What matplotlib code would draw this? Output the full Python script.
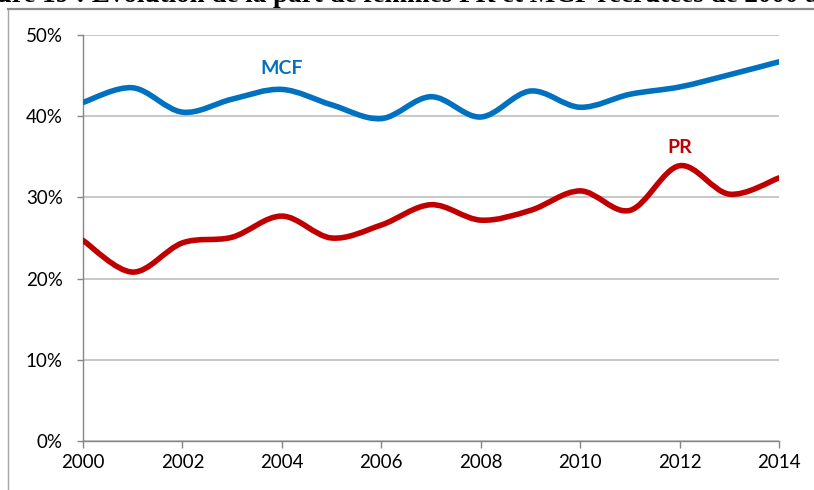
import numpy as np
import matplotlib.pyplot as plt
from matplotlib.path import Path
from matplotlib.patches import PathPatch
from matplotlib.lines import Line2D

# données (% de femmes recrutées)
years = list(range(2000, 2015))
mcf = [41.7, 43.5, 40.5, 42.1, 43.3, 41.4, 39.7, 42.4, 39.9, 43.1, 41.1, 42.7, 43.6, 45.1, 46.7]
pr = [24.7, 20.8, 24.4, 25.1, 27.7, 25.0, 26.6, 29.1, 27.2, 28.4, 30.8, 28.4, 33.9, 30.4, 32.4]

y_ticks = [0, 10, 20, 30, 40, 50]
x_ticks = list(range(2000, 2015, 2))

title = "Figure 19 : Évolution de la part de femmes PR et MCF recrutées de 2000 à 2014"

# couleurs
bleu = '#0070C0'
rouge = '#C00000'
grille = '#BFBFBF'
axe = '#868686'

plt.rcParams['font.family'] = ['Lato', 'DejaVu Sans']


def smooth_path(x, y):
    # courbe lissée façon Excel (bezier cubiques)
    x = np.asarray(x, float)
    y = np.asarray(y, float)
    n = len(x)
    verts = [(x[0], y[0])]
    codes = [Path.MOVETO]
    for i in range(n - 1):
        i0 = max(i - 1, 0)
        i3 = min(i + 2, n - 1)
        c1 = (x[i] + (x[i + 1] - x[i0]) / 6, y[i] + (y[i + 1] - y[i0]) / 6)
        c2 = (x[i + 1] - (x[i3] - x[i]) / 6, y[i + 1] - (y[i3] - y[i]) / 6)
        verts += [c1, c2, (x[i + 1], y[i + 1])]
        codes += [Path.CURVE4] * 3
    return Path(verts, codes)


fig = plt.figure(figsize=(8.14, 4.90), dpi=100)
ax = fig.add_axes([83 / 814, 1 - 441 / 490, (779 - 83) / 814, (441 - 35) / 490])

for vals, col in [(mcf, bleu), (pr, rouge)]:
    ax.add_patch(PathPatch(smooth_path(years, vals), fill=False, edgecolor=col,
                           lw=4.0, capstyle='round', joinstyle='round', zorder=3))

ax.set_xlim(2000, 2014)
ax.set_ylim(0, 50)
ax.set_xticks(x_ticks)
ax.set_yticks(y_ticks)
ax.set_yticklabels([f"{v}%" for v in y_ticks])
ax.tick_params(axis='x', direction='out', length=5, width=1, color=axe, pad=4, labelsize=13.5)
ax.tick_params(axis='y', direction='out', length=4.5, width=1, color=axe, pad=10, labelsize=13.5)
ax.yaxis.grid(True, color=grille, lw=1.2)
ax.set_axisbelow(True)
for s in ['top', 'right']:
    ax.spines[s].set_visible(False)
for s in ['left', 'bottom']:
    ax.spines[s].set_color(axe)
    ax.spines[s].set_linewidth(1)

ax.text(2004, 45.9, "MCF", color=bleu, fontsize=14, fontweight='bold', ha='center', va='center')
ax.text(2012, 36.1, "PR", color=rouge, fontsize=14, fontweight='bold', ha='center', va='center')

# cadre du graphique et titre coupé en haut
fig.add_artist(Line2D([8 / 814, 8 / 814], [0, 1 - 9.5 / 490], color='#A6A6A6', lw=1))
fig.add_artist(Line2D([8 / 814, 1], [1 - 9.5 / 490, 1 - 9.5 / 490], color='#8C8C8C', lw=1.6))
fig.text(-41 / 814, 1 - 2 / 490, title, fontsize=19.5, fontweight='bold',
         family='Liberation Serif', ha='left', va='baseline')

plt.savefig("out.png", dpi=100)
